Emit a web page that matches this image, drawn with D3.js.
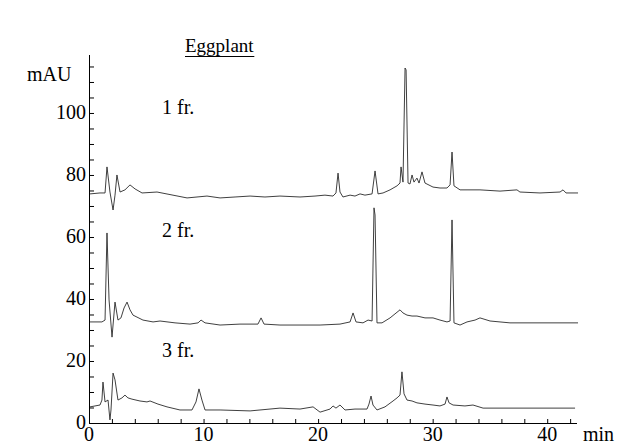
<!DOCTYPE html>
<html>
<head>
<meta charset="utf-8">
<script src="https://cdn.jsdelivr.net/npm/d3@7/dist/d3.min.js"></script>
<style>
  html, body { margin: 0; padding: 0; background: #fff; }
  svg { display: block; }
  text { font-family: "Liberation Serif", "Times New Roman", serif; fill: #000; }
</style>
</head>
<body>
<svg id="chart" width="618" height="446"></svg>
<script>
// ---- data (time in min, absorbance in mAU) ----
const yTicks = [0, 20, 40, 60, 80, 100];
const xTicks = [0, 10, 20, 30, 40];
const seriesLabels = ["1 fr.", "2 fr.", "3 fr."];

const fr1Time = [0.09,0.96,1.40,1.57,1.83,2.10,2.27,2.44,2.71,3.14,3.58,4.02,4.63,5.94,8.56,10.30,11.44,12.75,14.06,15.36,16.67,18.42,19.73,20.60,21.30,21.56,21.74,21.91,22.17,22.79,23.22,23.66,24.09,24.71,24.97,25.23,25.67,26.28,26.89,27.15,27.24,27.41,27.59,27.68,27.85,28.02,28.20,28.37,28.63,28.81,29.07,29.33,30.03,30.64,31.25,31.52,31.69,31.86,32.39,33.00,34.13,35.88,37.36,37.62,39.37,41.12,41.38,41.64,42.69];
const fr1mAU  = [73.9,74.2,74.2,82.6,74.5,68.7,73.5,80.0,74.5,75.2,76.8,75.5,74.2,74.5,72.6,73.2,72.6,72.9,73.2,72.9,73.2,72.9,73.2,73.5,73.2,74.2,80.6,74.5,72.9,73.5,73.2,73.9,73.5,73.9,81.3,73.9,74.2,75.2,76.5,77.4,82.6,77.7,114.5,113.9,77.4,77.1,80.0,77.7,79.0,77.4,81.0,77.4,76.1,75.8,75.8,76.8,87.4,76.5,75.2,75.2,75.2,74.8,75.2,74.5,74.2,74.5,75.2,74.2,74.2];

const fr2Time = [0.09,1.13,1.40,1.57,1.75,2.01,2.27,2.53,2.79,3.06,3.32,3.58,3.84,4.71,5.59,6.20,7.51,8.82,9.52,9.78,10.13,11.44,13.18,14.75,15.02,15.28,16.67,18.42,20.17,21.91,22.79,23.05,23.31,23.92,24.36,24.71,24.88,24.97,25.14,25.58,26.28,27.15,27.41,27.76,28.20,28.63,29.33,30.03,30.64,31.25,31.52,31.69,31.86,32.39,33.00,33.70,34.13,35.01,36.75,39.37,42.69];
const fr2mAU  = [32.6,32.6,33.2,61.3,39.7,27.7,39.0,33.2,33.9,37.1,39.0,36.5,34.8,33.2,32.6,32.9,32.3,31.9,32.3,33.2,32.3,31.6,31.9,31.9,33.9,31.9,31.6,31.6,31.6,31.9,32.6,35.5,32.6,32.3,33.2,32.9,69.4,67.1,32.3,32.3,33.9,36.5,35.5,34.8,34.5,34.5,33.9,33.9,33.2,32.6,32.9,65.5,32.3,31.6,32.6,33.2,33.9,32.9,32.3,32.3,32.3];

const fr3Time = [0.09,0.96,1.13,1.22,1.40,1.66,1.83,1.92,2.10,2.27,2.53,2.88,3.14,3.40,3.75,4.45,5.06,5.33,6.02,6.81,7.94,8.99,9.34,9.60,9.86,10.13,11.44,14.06,16.67,18.42,19.56,20.17,21.04,21.30,21.56,21.91,22.35,23.22,24.27,24.44,24.62,24.79,25.14,25.84,26.54,26.89,27.15,27.32,27.50,27.76,28.20,28.63,29.33,30.03,30.64,31.08,31.25,31.43,31.78,32.82,33.52,34.40,42.43];
const fr3mAU  = [5.2,5.8,7.4,13.2,6.8,7.4,1.0,4.2,16.1,13.9,7.4,8.1,9.0,8.1,7.7,7.1,6.8,7.1,6.1,5.2,4.2,4.2,6.8,11.0,7.4,4.2,4.2,3.9,4.8,4.5,5.2,3.5,4.5,5.5,4.8,5.8,4.2,4.5,4.5,6.1,8.7,5.8,4.2,5.2,7.1,8.1,9.0,16.5,9.4,7.4,7.1,6.5,6.1,5.8,5.5,6.1,8.4,6.5,5.8,5.5,5.8,4.8,4.8];

// ---- layout ----
const svg = d3.select("#chart");
const x = d3.scaleLinear().domain([0, 42.6]).range([89, 577]);
const y = d3.scaleLinear().domain([0, 118.7]).range([423, 55]);

const series = [
  { t: fr1Time, v: fr1mAU },
  { t: fr2Time, v: fr2mAU },
  { t: fr3Time, v: fr3mAU }
];

const line = d3.line().x(d => x(d[0])).y(d => y(d[1]));

series.forEach(s => {
  svg.append("path")
    .datum(s.t.map((t, i) => [t, s.v[i]]))
    .attr("d", line)
    .attr("fill", "none")
    .attr("stroke", "#2a2a2a")
    .attr("stroke-width", 0.9)
    .attr("stroke-linejoin", "round");
});

// y axis: ticks pointing inside (right)
const yAxis = d3.axisRight(y)
  .tickValues(d3.range(0, 116, 5))
  .tickSize(5)
  .tickFormat("");
const gy = svg.append("g").attr("transform", `translate(${x(0)},0)`).call(yAxis);
gy.select(".domain").attr("d", `M0.5,${y(0)}V${y.range()[1]}`).attr("stroke", "#000");
gy.selectAll(".tick line").attr("stroke", "#000");

svg.append("g").selectAll("text")
  .data(yTicks).join("text")
  .attr("x", 86).attr("y", d => y(d) - 1)
  .attr("text-anchor", "end")
  .attr("dominant-baseline", "central")
  .attr("font-size", 20)
  .text(d => d);

// x axis: ticks pointing inside (up)
const xAxis = d3.axisTop(x)
  .tickValues(d3.range(0, 43, 2))
  .tickSize(4)
  .tickFormat("");
const gx = svg.append("g").attr("transform", `translate(0,${y(0)})`).call(xAxis);
gx.select(".domain").attr("d", `M${x(0)},0.5H${x.range()[1]}`).attr("stroke", "#000");
gx.selectAll(".tick line").attr("stroke", "#000");

svg.append("g").selectAll("text")
  .data(xTicks).join("text")
  .attr("x", d => x(d)).attr("y", 441)
  .attr("text-anchor", "middle")
  .attr("font-size", 20)
  .text(d => d);

svg.append("text").attr("x", 583).attr("y", 441).attr("font-size", 20).text("min");
svg.append("text").attr("x", 27).attr("y", 81).attr("font-size", 20).text("mAU");

// series labels
const labelY = [114, 237, 357];
svg.append("g").selectAll("text")
  .data(seriesLabels).join("text")
  .attr("x", 162).attr("y", (d, i) => labelY[i])
  .attr("font-size", 20)
  .text(d => d);

// title
const title = svg.append("text").attr("x", 185).attr("y", 52).attr("font-size", 19).text("Eggplant");
const bb = title.node().getBBox();
svg.append("line")
  .attr("x1", bb.x).attr("x2", bb.x + bb.width)
  .attr("y1", 56.5).attr("y2", 56.5)
  .attr("stroke", "#000").attr("stroke-width", 1.2);
</script>
</body>
</html>
